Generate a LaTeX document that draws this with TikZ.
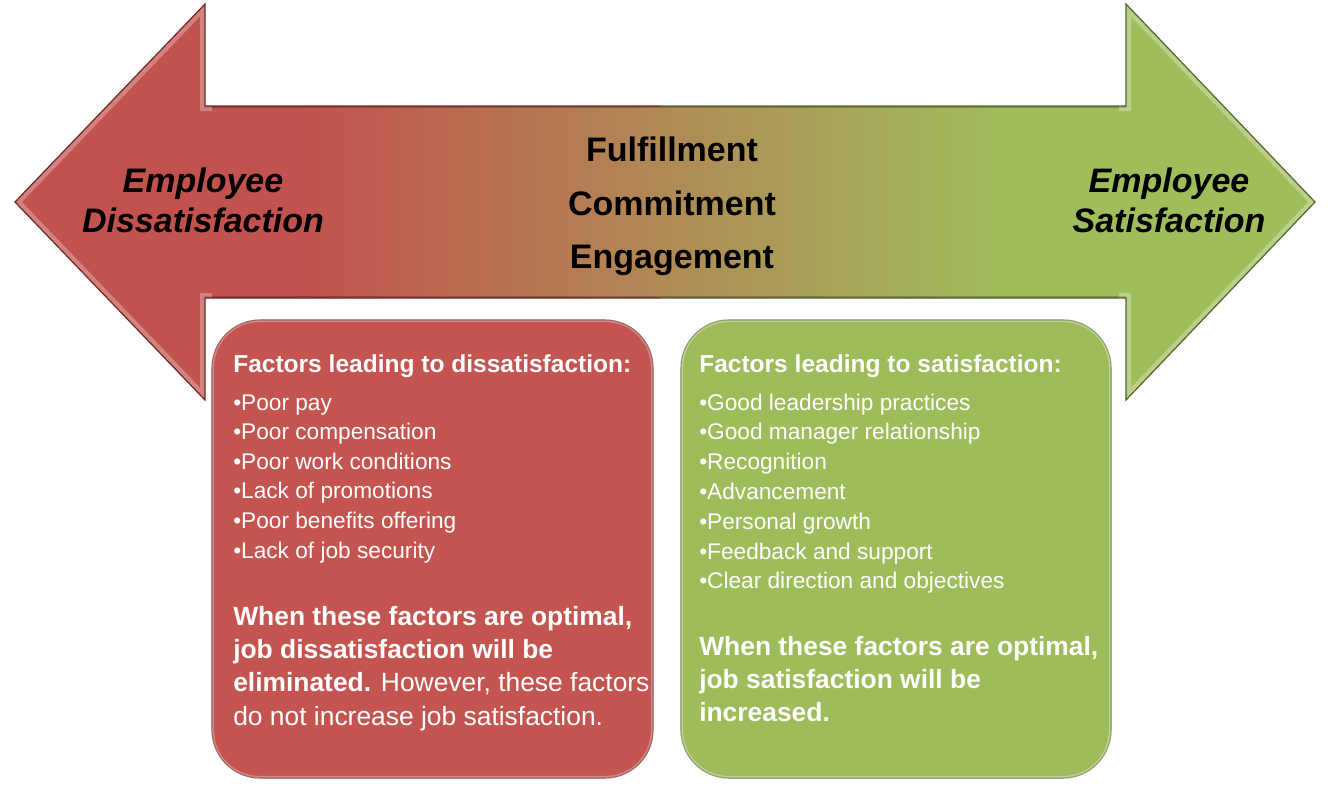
\documentclass[tikz,border=0pt]{standalone}
\usepackage{fontspec}
\setmainfont{Liberation Sans}
\definecolor{accred}{RGB}{194,82,78}
\definecolor{accgreen}{RGB}{160,189,92}
\definecolor{midbrown}{RGB}{187,134,88}
\definecolor{redbox}{RGB}{196,84,80}
\definecolor{greenbox}{RGB}{158,188,90}
\definecolor{darkred}{RGB}{110,38,36}
\definecolor{darkgreen}{RGB}{80,100,40}
\tikzset{
  headtxt/.style={inner sep=0pt, anchor=base, text=black, font=\fontsize{25.5}{30}\selectfont\bfseries\itshape},
  midtxt/.style={inner sep=0pt, anchor=base, text=black, font=\fontsize{25.5}{30}\selectfont\bfseries},
  boxhead/.style={inner sep=0pt, anchor=base west, text=white, font=\fontsize{18.4}{22}\selectfont\bfseries},
  itemtxt/.style={inner sep=0pt, anchor=base west, text=white, font=\fontsize{17}{20}\selectfont},
  paratxt/.style={inner sep=0pt, anchor=base west, text=white, font=\fontsize{19.8}{24}\selectfont},
  factorbox/.style={inner sep=0pt, rounded corners=36pt, minimum height=343.5pt},
}
\begin{document}
\begin{tikzpicture}[x=0.75pt,y=-0.75pt]
\useasboundingbox (0,0) rectangle (1328,786);
\fill[white] (0,0) rectangle (1328,786);

% double-headed arrow
\begin{scope}
  \clip (15,202) -- (205,4) -- (205,106) -- (1126,106) -- (1126,4) -- (1315,202) -- (1126,400) -- (1126,298) -- (205,298) -- (205,400) -- cycle;
  \fill[accred] (0,0) rectangle (301,410);
  \shade[left color=accred, middle color=midbrown, right color=accgreen] (300,0) rectangle (1001,410);
  \fill[accgreen] (1000,0) rectangle (1328,410);
  % darker soft rim along the shaft
  \draw[black, opacity=0.22, line width=3pt] (205,106) -- (1126,106);
  \draw[black, opacity=0.22, line width=3pt] (205,298) -- (1126,298);
  % bevel highlight on the heads only
  \begin{scope}
    \clip (0,0) rectangle (212,410) (1119,0) rectangle (1328,410);
    \draw[white, opacity=0.28, line width=7.5pt] (15,202) -- (205,4) -- (205,106) -- (1126,106) -- (1126,4) -- (1315,202) -- (1126,400) -- (1126,298) -- (205,298) -- (205,400) -- cycle;
  \end{scope}
\end{scope}
\begin{scope}
  \clip (0,0) rectangle (660,410);
  \draw[darkred, line width=0.9pt, line join=miter] (15,202) -- (205,4) -- (205,106) -- (1126,106) -- (1126,4) -- (1315,202) -- (1126,400) -- (1126,298) -- (205,298) -- (205,400) -- cycle;
\end{scope}
\begin{scope}
  \clip (660,0) rectangle (1328,410);
  \draw[darkgreen, line width=0.9pt, line join=miter] (15,202) -- (205,4) -- (205,106) -- (1126,106) -- (1126,4) -- (1315,202) -- (1126,400) -- (1126,298) -- (205,298) -- (205,400) -- cycle;
\end{scope}

% arrow labels
\node[headtxt] (dis1) at (203,192) {Employee};
\node[headtxt] (dis2) at (203,232) {Dissatisfaction};
\node[headtxt] (sat1) at (1169,192) {Employee};
\node[headtxt] (sat2) at (1169,232) {Satisfaction};
\node[midtxt] (mid1) at (672,161) {Fulfillment};
\node[midtxt] (mid2) at (672,215) {Commitment};
\node[midtxt] (mid3) at (672,268) {Engagement};

% boxes
\node[factorbox, fill=redbox, draw=darkred, line width=0.8pt, minimum width=330.75pt] (rbox) at (432.5,549) {};
\node[factorbox, fill=greenbox, draw=darkgreen, line width=0.8pt, minimum width=322.5pt] (gbox) at (896,549) {};
\begin{scope}
  \clip[rounded corners=36pt] (rbox.south west) rectangle (rbox.north east);
  \draw[white, opacity=0.3, line width=4pt, rounded corners=36pt] (rbox.south west) rectangle (rbox.north east);
\end{scope}
\begin{scope}
  \clip[rounded corners=36pt] (gbox.south west) rectangle (gbox.north east);
  \draw[white, opacity=0.35, line width=4pt, rounded corners=36pt] (gbox.south west) rectangle (gbox.north east);
\end{scope}

% red box text
\node[boxhead] (rhead) at (233,372) {Factors leading to dissatisfaction:};
\foreach \t [count=\i] in {Poor pay, Poor compensation, Poor work conditions, Lack of promotions, Poor benefits offering, Lack of job security}
  {\node[itemtxt] (ritem\i) at (233,{410+(\i-1)*29.6}) {•\t};}
\node[paratxt] (rp1) at (233,625) {\bfseries When these factors are optimal,};
\node[paratxt] (rp2) at (233,658.3) {\bfseries job dissatisfaction will be};
\node[paratxt] (rp3) at (233,691.6) {\textbf{eliminated.} However, these factors};
\node[paratxt] (rp4) at (233,725) {do not increase job satisfaction.};

% green box text
\node[boxhead] (ghead) at (699,372) {Factors leading to satisfaction:};
\foreach \t [count=\i] in {Good leadership practices, Good manager relationship, Recognition, Advancement, Personal growth, Feedback and support, Clear direction and objectives}
  {\node[itemtxt] (gitem\i) at (699,{410+(\i-1)*29.8}) {•\t};}
\node[paratxt] (gp1) at (699,655) {\bfseries When these factors are optimal,};
\node[paratxt] (gp2) at (699,688.3) {\bfseries job satisfaction will be};
\node[paratxt] (gp3) at (699,721.6) {\bfseries increased.};
\end{tikzpicture}
\end{document}
